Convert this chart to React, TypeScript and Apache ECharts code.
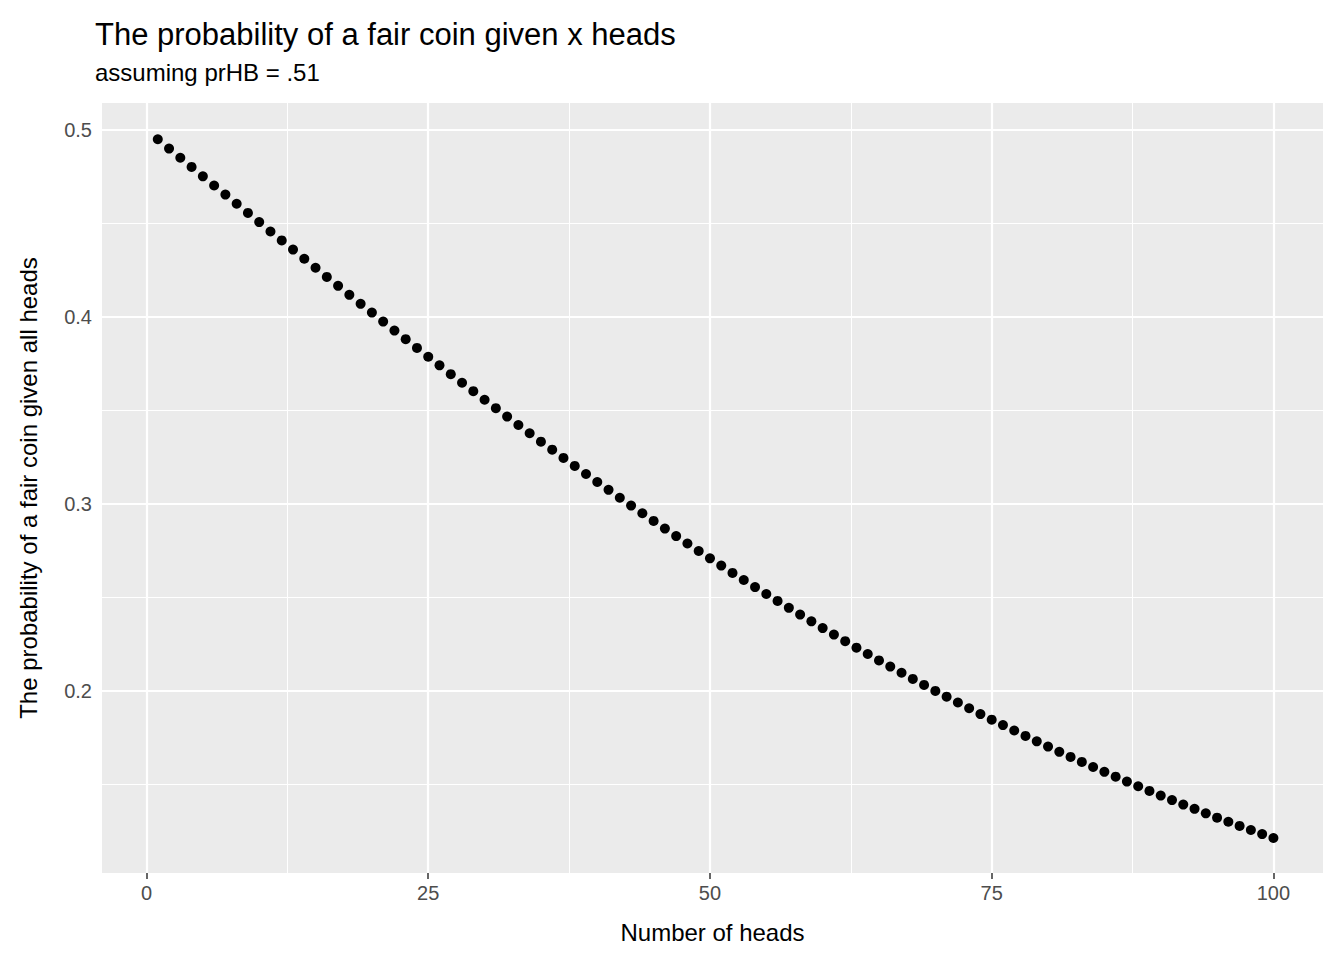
import * as echarts from "echarts";
import { useEffect, useRef } from "react";

const heads = Array.from({ length: 100 }, (_, i) => i + 1);
const probFair = [
  0.495, 0.49, 0.4851, 0.4802, 0.4752, 0.4703, 0.4654, 0.4605, 0.4556, 0.4507,
  0.4457, 0.4409, 0.436, 0.4311, 0.4263, 0.4214, 0.4166, 0.4118, 0.407, 0.4023,
  0.3975, 0.3927, 0.3881, 0.3834, 0.3787, 0.3741, 0.3694, 0.3648, 0.3603, 0.3557,
  0.3512, 0.3467, 0.3422, 0.3378, 0.3333, 0.329, 0.3246, 0.3203, 0.316, 0.3117,
  0.3075, 0.3033, 0.2991, 0.295, 0.2909, 0.2868, 0.2828, 0.2788, 0.2748, 0.2709,
  0.267, 0.2631, 0.2593, 0.2555, 0.2518, 0.2481, 0.2444, 0.2408, 0.2372, 0.2336,
  0.2301, 0.2266, 0.2231, 0.2197, 0.2163, 0.213, 0.2097, 0.2064, 0.2032, 0.2,
  0.1969, 0.1938, 0.1907, 0.1876, 0.1846, 0.1817, 0.1788, 0.1759, 0.173, 0.1702,
  0.1674, 0.1647, 0.162, 0.1593, 0.1567, 0.1541, 0.1515, 0.149, 0.1465, 0.144,
  0.1416, 0.1392, 0.1369, 0.1345, 0.1322, 0.13, 0.1278, 0.1256, 0.1234, 0.1213,
];
const xTicks = [0, 25, 50, 75, 100];
const xMinor = [12.5, 37.5, 62.5, 87.5];
const yTicks = [0.2, 0.3, 0.4, 0.5];
const yMinor = [0.15, 0.25, 0.35, 0.45];

export default function App() {
  const ref = useRef<HTMLDivElement | null>(null);

  useEffect(() => {
    if (!ref.current) return;
    const chart = echarts.init(ref.current, undefined, { renderer: "svg" });
    const font = "Liberation Sans, Arial, sans-serif";
    const gridLine = (w: number) => ({ color: "#ffffff", width: w, type: "solid" as const });
    chart.setOption({
      animation: false,
      textStyle: { fontFamily: font },
      title: {
        text: "The probability of a fair coin given x heads",
        subtext: "assuming prHB = .51",
        left: 82,
        top: 6,
        itemGap: 10,
        textStyle: { fontSize: 31, fontWeight: "normal", color: "#000", fontFamily: font },
        subtextStyle: { fontSize: 24, color: "#000", fontFamily: font },
      },
      grid: { left: 88, right: 13, top: 95, bottom: 79, backgroundColor: "#ebebeb", show: true, borderWidth: 0 },
      xAxis: {
        type: "value",
        min: -3.95,
        max: 104.4,
        name: "Number of heads",
        nameLocation: "middle",
        nameGap: 47,
        nameTextStyle: { fontSize: 24, color: "#000" },
        axisLine: { show: false },
        splitLine: { show: false },
        axisTick: { show: true, customValues: xTicks, length: 6, lineStyle: { color: "#333", width: 1.5 } },
        axisLabel: { customValues: xTicks, fontSize: 20, color: "#4d4d4d", margin: 10 },
      },
      yAxis: {
        type: "value",
        min: 0.1026,
        max: 0.5144,
        name: "The probability of a fair coin given all heads",
        nameLocation: "middle",
        nameGap: 62,
        nameTextStyle: { fontSize: 24, color: "#000" },
        axisLine: { show: false },
        splitLine: { show: false },
        axisTick: { show: true, customValues: yTicks, length: 6, lineStyle: { color: "#333", width: 1.5 } },
        axisLabel: { customValues: yTicks, fontSize: 20, color: "#4d4d4d", margin: 10 },
      },
      series: [
        {
          type: "line",
          data: [],
          markLine: {
            silent: true,
            symbol: "none",
            label: { show: false },
            data: [
              ...xMinor.map((v) => ({ xAxis: v, lineStyle: gridLine(1) })),
              ...yMinor.map((v) => ({ yAxis: v, lineStyle: gridLine(1) })),
              ...xTicks.map((v) => ({ xAxis: v, lineStyle: gridLine(2.2) })),
              ...yTicks.map((v) => ({ yAxis: v, lineStyle: gridLine(2.2) })),
            ],
          },
        },
        {
          type: "scatter",
          symbolSize: 10,
          itemStyle: { color: "#000", opacity: 1 },
          data: heads.map((h, i) => [h, probFair[i]]),
          z: 5,
        },
      ],
    });
    return () => chart.dispose();
  }, []);

  return <div ref={ref} style={{ width: 1328, height: 944 }} />;
}
